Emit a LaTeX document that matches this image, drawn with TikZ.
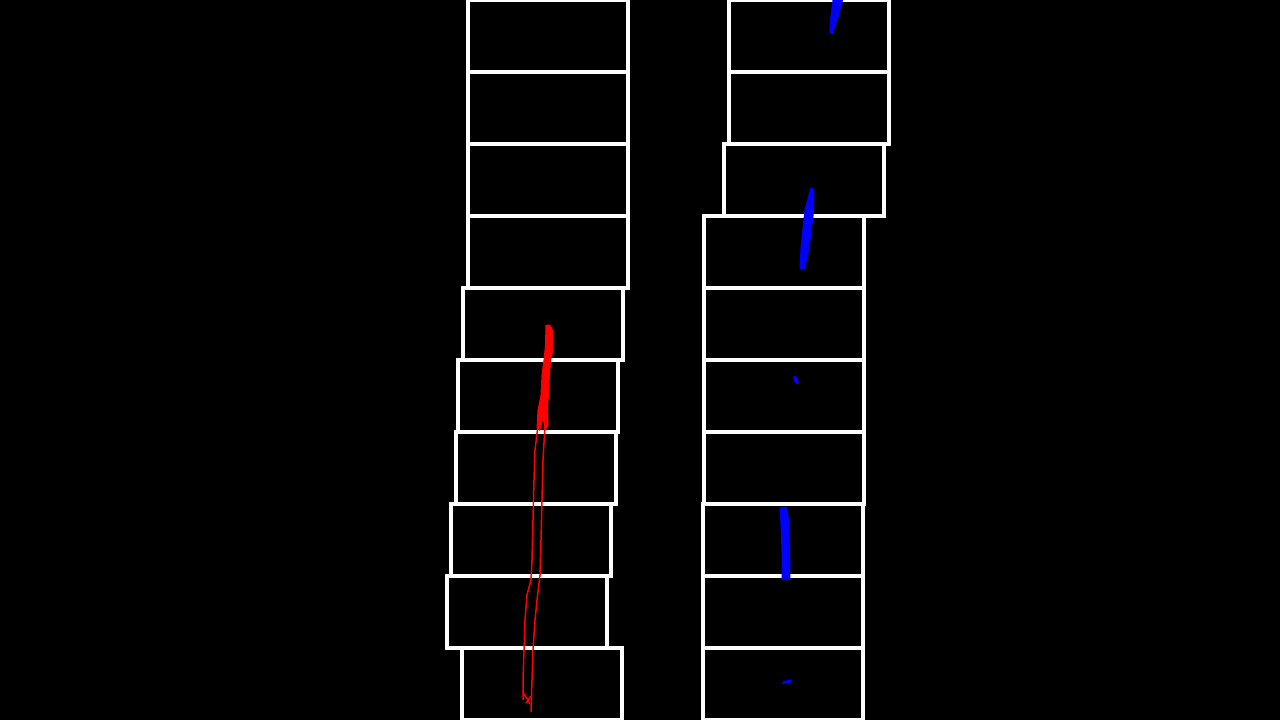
\documentclass[tikz,border=0pt]{standalone}
\begin{document}
\begin{tikzpicture}[x=1pt,y=-1pt,
  win/.style={draw=white,line width=3.2pt},
  redlane/.style={fill=red},
  redtrace/.style={draw=red,line width=1.5pt},
  bluelane/.style={fill=blue}]
\fill[black] (0,0) rectangle (1280,720);
\useasboundingbox (0,0) rectangle (1280,720);
% left windows
\draw[win] (468,0) rectangle (628,72);
\draw[win] (468,72) rectangle (628,144);
\draw[win] (468,144) rectangle (628,216);
\draw[win] (468,216) rectangle (628,288);
\draw[win] (463,288) rectangle (623,360);
\draw[win] (458,360) rectangle (618,432);
\draw[win] (456,432) rectangle (616,504);
\draw[win] (451,504) rectangle (611,576);
\draw[win] (447,576) rectangle (607,648);
\draw[win] (462,648) rectangle (622,720);
% right windows
\draw[win] (729,0) rectangle (889,72);
\draw[win] (729,72) rectangle (889,144);
\draw[win] (724,144) rectangle (884,216);
\draw[win] (704,216) rectangle (864,288);
\draw[win] (704,288) rectangle (864,360);
\draw[win] (704,360) rectangle (864,432);
\draw[win] (704,432) rectangle (864,504);
\draw[win] (703,504) rectangle (863,576);
\draw[win] (703,576) rectangle (863,648);
\draw[win] (703,648) rectangle (863,720);
% red lane pixels
\fill[redlane] (545.5,325) -- (550,324.5) -- (553,330) -- (553,352) -- (551,360) -- (550,375) -- (549,395) -- (548,405) -- (548.5,426) -- (545,431) -- (543,420) -- (540,431) -- (536.5,428) -- (537.5,410) -- (540.5,395) -- (541.5,375) -- (543.5,360) -- (545,345) -- cycle;
\draw[redtrace] (538,425) -- (535,450) -- (534,480) -- (533,520) -- (532,560) -- (531,580) -- (527,595) -- (525,620) -- (524,650) -- (523,680) -- (523,700);
\draw[redtrace] (545,425) -- (543,460) -- (542,500) -- (541,540) -- (540,575) -- (537,600) -- (535,620) -- (533,650) -- (532,680) -- (531,712);
\draw[redtrace] (523,692) -- (530,704);
\draw[redtrace] (526,703) -- (531,696);
% blue lane pixels
\fill[bluelane] (832.5,0) -- (843,0) -- (838.5,17) -- (832.5,34) -- (829.5,33) -- (830.5,16) -- cycle;
\fill[bluelane] (810.5,187.5) -- (814.5,189) -- (814,212) -- (809,250) -- (805,269) -- (799.5,269) -- (800.5,248) -- (804.5,210) -- cycle;
\fill[bluelane] (796,380) ellipse[x radius=2.2, y radius=4.5, rotate=25];
\fill[bluelane] (779.5,507.5) -- (787,506.5) -- (789,520) -- (790,540) -- (790.5,580) -- (781.5,580) -- (781.5,552) -- (780.5,525) -- cycle;
\fill[bluelane] (781.5,684) -- (783.5,681) -- (791.5,679.5) -- (791.5,682.5) -- (785,683.5) -- cycle;
\end{tikzpicture}
\end{document}
